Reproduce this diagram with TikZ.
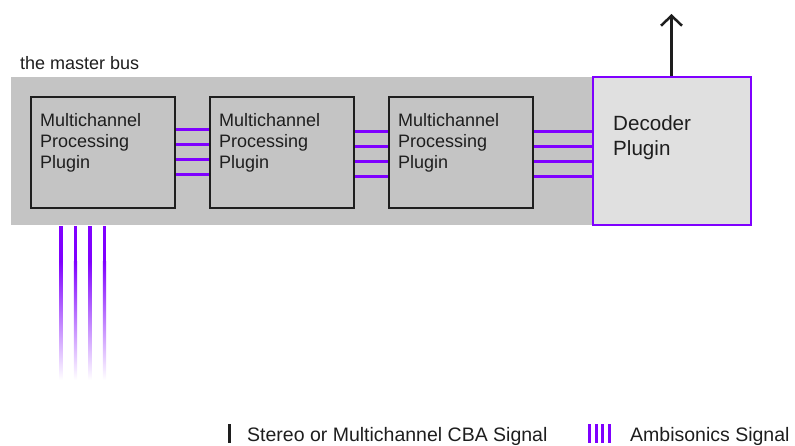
\documentclass[tikz,border=0pt]{standalone}
\usepackage{fontspec}
\setmainfont{Liberation Sans}
\usetikzlibrary{arrows.meta}
\definecolor{sig}{RGB}{127,0,255}
\definecolor{busgrey}{RGB}{196,196,196}
\definecolor{decfill}{RGB}{224,224,224}
\definecolor{ink}{RGB}{30,30,30}

\begin{document}
\begin{tikzpicture}[x=1pt,y=-1pt,
  plugbox/.style={draw=ink,line width=2pt,fill=busgrey,minimum width=144pt,minimum height=111pt,inner sep=0pt},
  boxtext/.style={font=\fontsize{18}{21}\selectfont,align=left,anchor=north west,inner sep=0pt,text=ink},
  chan/.style={draw=sig,line width=3pt},
  fadechan/.style={top color=sig,bottom color=white,draw=none},
  legendtext/.style={font=\fontsize{19.5}{23}\selectfont,anchor=base west,inner sep=0pt,text=ink}]

\useasboundingbox (0,0) rectangle (795,446);

% the bus strip
\fill[busgrey] (11,77) rectangle (593,225.5);
\node[font=\fontsize{18}{21}\selectfont,anchor=base west,inner sep=0pt,text=ink] (buslabel) at (20,70) {the master bus};

% plugin boxes
\node[plugbox] (p1) at (103,153) {};
\node[plugbox] (p2) at (282,153) {};
\node[plugbox] (p3) at (461,153) {};
\node[boxtext] (t1) at (40,113) {Multichannel\\Processing\\Plugin};
\node[boxtext] (t2) at (219,113) {Multichannel\\Processing\\Plugin};
\node[boxtext] (t3) at (398,113) {Multichannel\\Processing\\Plugin};

% decoder
\node[draw=sig,line width=2pt,fill=decfill,minimum width=158pt,minimum height=148pt,inner sep=0pt] (dec) at (671.5,151.5) {};
\node[font=\fontsize{20.6}{25}\selectfont,align=left,anchor=north west,inner sep=0pt,text=ink] (dtext) at (613,115) {Decoder\\Plugin};

% ambisonic channels between plugins
\foreach \d in {33,48,63,78}
  \draw[chan] ([yshift=-\d pt]p1.north east) -- ([yshift=-\d pt]p2.north west);
\foreach \d in {35,50,65,80}
  \draw[chan] ([yshift=-\d pt]p2.north east) -- ([yshift=-\d pt]p3.north west);
\foreach \d in {35,50,65,80}
  \draw[chan] ([yshift=-\d pt]p3.north east) -- ([yshift=-\d pt]p3.north east -| dec.west);

% incoming ambisonic channels fading out below the bus
\foreach \x in {61,75.5,90,104.5}{
  \fill[sig] (\x-1.6,226) rectangle (\x+1.6,262);
  \shade[fadechan] (\x-1.6,261.5) rectangle (\x+1.6,380);
}

% decoder output
\coordinate (out) at (671.5,14);
\draw[ink,line width=2.5pt,-{Straight Barb[length=10pt,width=21pt]}] (dec.north) -- (out);

% legend
\draw[ink,line width=3pt] (229.5,424) -- (229.5,443);
\node[legendtext] (lg1) at (247,441) {Stereo or Multichannel CBA Signal};
\foreach \x in {589.5,596,602.5,609.5}
  \draw[sig,line width=3pt] (\x,424) -- (\x,443);
\node[legendtext] (lg2) at (630,441) {Ambisonics Signal};
\end{tikzpicture}
\end{document}
